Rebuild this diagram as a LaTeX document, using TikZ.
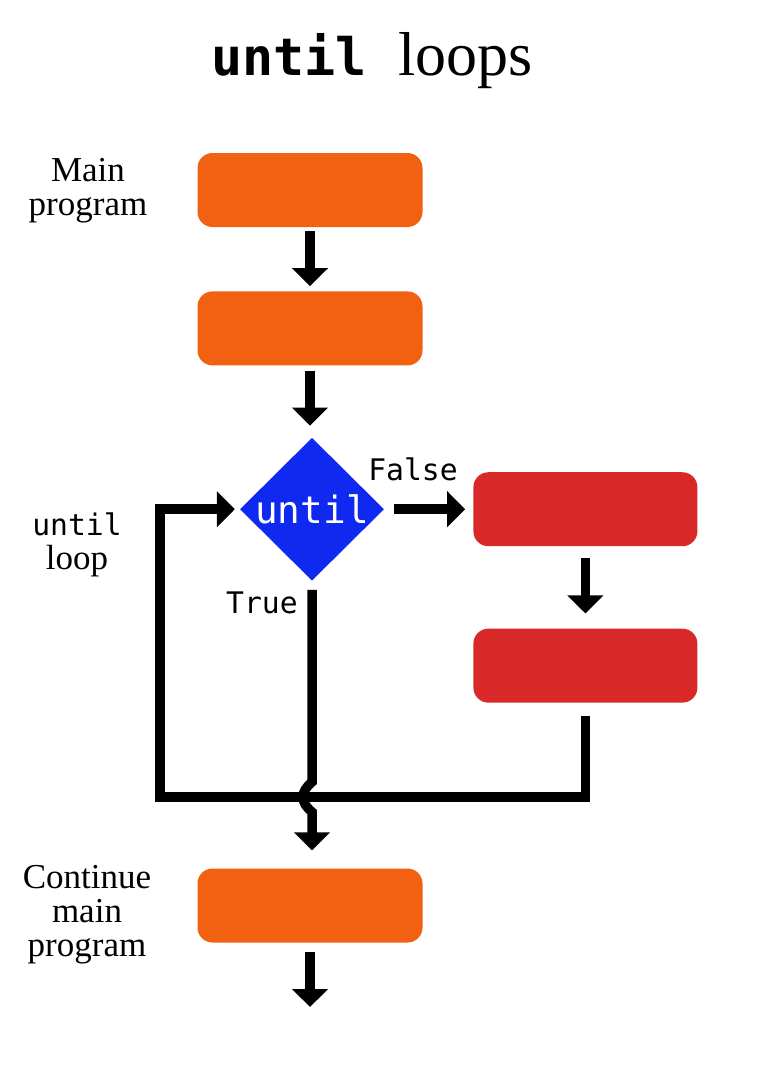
\documentclass[tikz,border=0pt]{standalone}
\usepackage{fontspec}
\setmainfont{Liberation Serif}
\setmonofont{DejaVu Sans Mono}
\usepackage{tikz}
\usetikzlibrary{shapes.geometric,arrows.meta,positioning}
\definecolor{boxorange}{RGB}{242,96,18}
\definecolor{boxred}{RGB}{217,40,40}
\definecolor{condblue}{RGB}{16,41,240}
\newcommand*{\lblsize}{\fontsize{35pt}{34pt}\selectfont}
\newcommand*{\codesize}{\fontsize{29.7pt}{34pt}\selectfont\ttfamily}

\begin{document}
\begin{tikzpicture}[x=1pt,y=-1pt,
block_main/.style ={rectangle, draw=none, fill=boxorange, rounded corners=15pt, minimum width=225pt, minimum height=74pt},
block_body/.style ={rectangle, draw=none, fill=boxred, rounded corners=15pt, minimum width=224pt, minimum height=74pt},
block_cond/.style ={diamond, draw=none, fill=condblue, text=white, inner sep=0pt, minimum width=144pt, minimum height=140pt, font=\fontsize{37.7pt}{40pt}\selectfont\ttfamily},
block_label/.style ={align=center, inner sep=0pt, font=\lblsize},
block_code/.style ={inner sep=0pt, font=\codesize},
line/.style ={draw, line width=9.5pt, -{Triangle[width=35pt,length=18pt]}}]
  \useasboundingbox (0,0) rectangle (768,1072);
  % title
  \node [anchor=base, inner sep=0pt] (title) at (372,75)
    {{\fontsize{51.7pt}{60pt}\selectfont\ttfamily\bfseries until }{\fontsize{62pt}{60pt}\selectfont loops}};
  % main program - column 1
  \node [block_main] (main1) at (310,190) {};
  \node [block_main, below=64pt of main1] (main2) {};
  \node [block_cond, below=72pt of main2, xshift=2pt] (cond) {until};
  \node [block_main] (main3) at (310,905.5) {};
  % loop body - column 2
  \node [block_body, right=89pt of cond] (body1) {};
  \node [block_body, below=82pt of body1] (body2) {};
  % labels
  \node [block_label] (lbl_main) at (88,191) {Main\\program};
  \node [block_label] (lbl_loop) at (77,545) {{\codesize until}\\loop};
  \node [block_label] (lbl_cont) at (87,915) {Continue\\main\\program};
  \node [block_code] (lbl_false) at (413,469) {False};
  \node [block_code] (lbl_true) at (262,603) {True};
  % free ends of the connectors
  \coordinate (loop_left) at (160,797);
  \coordinate (hop_top) at (312,782);
  \coordinate (hop_bot) at (312,812);
  \coordinate (exit) at (310,1007);
  % connecting nodes with paths
    \begin{scope}[every path/.style=line]
      \path [shorten <=4pt, shorten >=5pt] (main1) -- (main2);
      \path [shorten <=5pt, shorten >=12pt] (main2.south) -- (main2.south |- cond.north);
      \path [shorten <=10pt, shorten >=8pt] (cond) -- (body1);
      \path [shorten <=12pt, shorten >=15pt] (body1) -- (body2);
      \path [shorten <=13pt, shorten >=5pt] (body2.south) |- (loop_left) |- (cond.west);
      \path [shorten <=9pt, shorten >=18pt] (cond.south) -- (hop_top)
        .. controls +(-12,10) and +(-12,-10) .. (hop_bot) -- (hop_bot |- main3.north);
      \path [shorten <=9pt] (main3) -- (exit);
    \end{scope}
\end{tikzpicture}
\end{document}
